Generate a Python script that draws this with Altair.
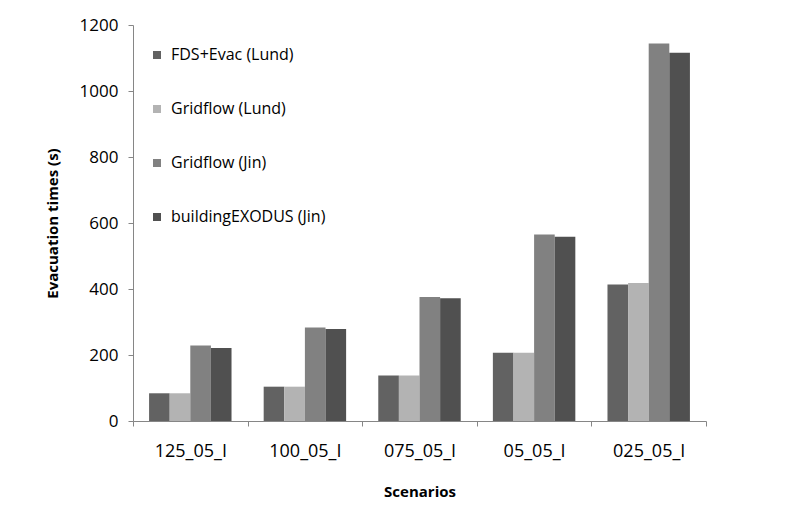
import altair as alt
import pandas as pd

scenarios = ["125_05_I", "100_05_I", "075_05_I", "05_05_I", "025_05_I"]
series = ["FDS+Evac (Lund)", "Gridflow (Lund)", "Gridflow (Jin)", "buildingEXODUS (Jin)"]
fds_evac_lund = [84, 104, 138, 207, 414]
gridflow_lund = [84, 104, 138, 207, 418]
gridflow_jin = [229, 283, 376, 565, 1144]
building_exodus_jin = [221, 279, 372, 558, 1116]
colors = ["#626262", "#b3b3b3", "#818181", "#505050"]
y_ticks = [0, 200, 400, 600, 800, 1000, 1200]

values = [fds_evac_lund, gridflow_lund, gridflow_jin, building_exodus_jin]
rows = []
for s, vals in zip(series, values):
    for sc, v in zip(scenarios, vals):
        rows.append({"Scenario": sc, "Series": s, "Time": v})
df = pd.DataFrame(rows)

FONT = "Open Sans"

chart = alt.Chart(df).mark_bar(strokeWidth=0).encode(
    x=alt.X("Scenario:N", sort=scenarios,
            scale=alt.Scale(paddingInner=0, paddingOuter=0),
            axis=alt.Axis(title="Scenarios", labelAngle=0, tickBand="extent",
                          labelFontSize=18, labelFont=FONT, labelColor="#000",
                          labelPadding=16, tickSize=5, tickColor="#868686",
                          domainColor="#868686", titleFont=FONT, titleFontSize=15,
                          titleFontWeight="bold", titleColor="#000", titlePadding=24,
                          grid=False)),
    xOffset=alt.XOffset("Series:N", sort=series,
                        scale=alt.Scale(paddingInner=0, paddingOuter=0.78)),
    y=alt.Y("Time:Q", scale=alt.Scale(domain=[0, 1200], nice=False),
            axis=alt.Axis(title="Evacuation times (s)", values=y_ticks, format="d",
                          labelFontSize=17, labelFont=FONT, labelColor="#000",
                          labelPadding=10, tickSize=5, tickColor="#868686",
                          domainColor="#868686", titleFont=FONT, titleFontSize=15,
                          titleFontWeight="bold", titleColor="#000", titlePadding=19,
                          grid=False)),
    color=alt.Color("Series:N", sort=series,
                    scale=alt.Scale(domain=series, range=colors),
                    legend=alt.Legend(title=None, orient="none", legendX=16, legendY=22,
                                      symbolType="square", symbolSize=64,
                                      symbolStrokeWidth=0, labelFont=FONT,
                                      labelFontSize=16, labelColor="#000",
                                      labelOffset=6, rowPadding=38)),
).properties(
    width=573, height=396,
    autosize=alt.AutoSizeParams(type="none"),
    padding={"left": 125, "top": 17, "right": 60, "bottom": 90},
).configure_view(stroke=None)

chart.save("out.html", embed_options={"renderer": "svg", "actions": False})
